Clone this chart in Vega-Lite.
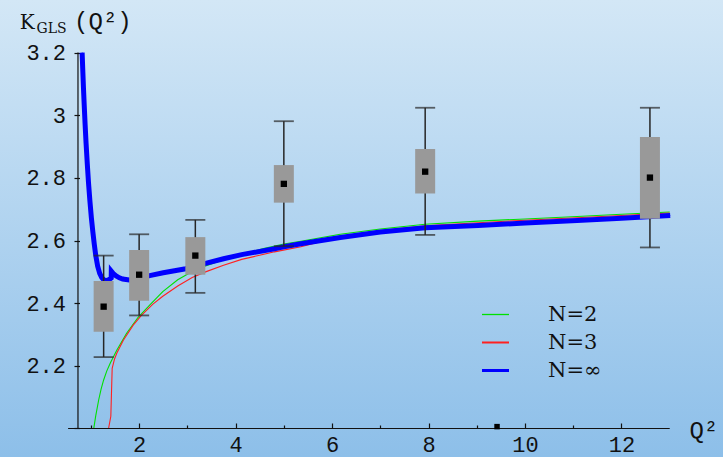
{
  "$schema": "https://vega.github.io/schema/vega-lite/v6.json",
  "width": 723,
  "height": 457,
  "autosize": {"type": "none"},
  "padding": 0,
  "background": "#b2d3ef",
  "view": {"stroke": null, "fill": {"expr": "{gradient: 'linear', x1: 0, y1: 0, x2: 0, y2: 1, stops: [{offset: 0, color: '#d3e7f6'}, {offset: 1, color: '#8dbfe9'}]}"}},
  "config": {
    "axis": {"domain": false, "grid": false, "labelFont": "Liberation Mono", "labelFontSize": 22, "labelColor": "#111111", "tickColor": "#111111", "tickWidth": 1.2, "labelFlush": false, "labelOverlap": false, "labelBound": false}
  },
  "datasets": {
    "curves": [
      {"series": "N=2", "q": 1.059, "k": 2.000},
      {"series": "N=2", "q": 1.100, "k": 2.040},
      {"series": "N=2", "q": 1.161, "k": 2.091},
      {"series": "N=2", "q": 1.210, "k": 2.125},
      {"series": "N=2", "q": 1.264, "k": 2.155},
      {"series": "N=2", "q": 1.330, "k": 2.184},
      {"series": "N=2", "q": 1.400, "k": 2.208},
      {"series": "N=2", "q": 1.536, "k": 2.250},
      {"series": "N=2", "q": 1.740, "k": 2.304},
      {"series": "N=2", "q": 1.979, "k": 2.355},
      {"series": "N=2", "q": 2.218, "k": 2.394},
      {"series": "N=2", "q": 2.490, "k": 2.437},
      {"series": "N=2", "q": 2.800, "k": 2.475},
      {"series": "N=2", "q": 3.100, "k": 2.501},
      {"series": "N=2", "q": 3.376, "k": 2.519},
      {"series": "N=2", "q": 3.785, "k": 2.540},
      {"series": "N=2", "q": 4.126, "k": 2.556},
      {"series": "N=2", "q": 4.600, "k": 2.575},
      {"series": "N=2", "q": 5.000, "k": 2.589},
      {"series": "N=2", "q": 5.353, "k": 2.598},
      {"series": "N=2", "q": 6.170, "k": 2.620},
      {"series": "N=2", "q": 7.000, "k": 2.637},
      {"series": "N=2", "q": 7.930, "k": 2.652},
      {"series": "N=2", "q": 9.030, "k": 2.662},
      {"series": "N=2", "q": 10.00, "k": 2.669},
      {"series": "N=2", "q": 11.08, "k": 2.677},
      {"series": "N=2", "q": 12.00, "k": 2.684},
      {"series": "N=2", "q": 13.00, "k": 2.691},
      {"series": "N=3", "q": 1.366, "k": 2.000},
      {"series": "N=3", "q": 1.413, "k": 2.039},
      {"series": "N=3", "q": 1.441, "k": 2.192},
      {"series": "N=3", "q": 1.490, "k": 2.222},
      {"series": "N=3", "q": 1.536, "k": 2.240},
      {"series": "N=3", "q": 1.672, "k": 2.282},
      {"series": "N=3", "q": 1.877, "k": 2.330},
      {"series": "N=3", "q": 2.047, "k": 2.361},
      {"series": "N=3", "q": 2.286, "k": 2.397},
      {"series": "N=3", "q": 2.490, "k": 2.422},
      {"series": "N=3", "q": 2.800, "k": 2.455},
      {"series": "N=3", "q": 3.100, "k": 2.482},
      {"series": "N=3", "q": 3.376, "k": 2.500},
      {"series": "N=3", "q": 3.750, "k": 2.521},
      {"series": "N=3", "q": 4.126, "k": 2.540},
      {"series": "N=3", "q": 4.807, "k": 2.564},
      {"series": "N=3", "q": 5.353, "k": 2.580},
      {"series": "N=3", "q": 6.170, "k": 2.612},
      {"series": "N=3", "q": 7.000, "k": 2.632},
      {"series": "N=3", "q": 7.930, "k": 2.647},
      {"series": "N=3", "q": 9.030, "k": 2.657},
      {"series": "N=3", "q": 10.00, "k": 2.665},
      {"series": "N=3", "q": 11.08, "k": 2.673},
      {"series": "N=3", "q": 12.00, "k": 2.680},
      {"series": "N=3", "q": 13.00, "k": 2.688},
      {"series": "N=∞", "q": 0.818, "k": 3.200},
      {"series": "N=∞", "q": 0.830, "k": 3.150},
      {"series": "N=∞", "q": 0.845, "k": 3.090},
      {"series": "N=∞", "q": 0.862, "k": 3.030},
      {"series": "N=∞", "q": 0.880, "k": 2.970},
      {"series": "N=∞", "q": 0.900, "k": 2.910},
      {"series": "N=∞", "q": 0.925, "k": 2.845},
      {"series": "N=∞", "q": 0.950, "k": 2.785},
      {"series": "N=∞", "q": 0.980, "k": 2.725},
      {"series": "N=∞", "q": 1.010, "k": 2.672},
      {"series": "N=∞", "q": 1.040, "k": 2.628},
      {"series": "N=∞", "q": 1.070, "k": 2.588},
      {"series": "N=∞", "q": 1.100, "k": 2.553},
      {"series": "N=∞", "q": 1.140, "k": 2.518},
      {"series": "N=∞", "q": 1.182, "k": 2.495},
      {"series": "N=∞", "q": 1.225, "k": 2.482},
      {"series": "N=∞", "q": 1.264, "k": 2.475},
      {"series": "N=∞", "q": 1.310, "k": 2.472},
      {"series": "N=∞", "q": 1.360, "k": 2.474},
      {"series": "N=∞", "q": 1.405, "k": 2.478},
      {"series": "N=∞", "q": 1.421, "k": 2.480},
      {"series": "N=∞", "q": 1.423, "k": 2.502},
      {"series": "N=∞", "q": 1.460, "k": 2.495},
      {"series": "N=∞", "q": 1.523, "k": 2.487},
      {"series": "N=∞", "q": 1.590, "k": 2.481},
      {"series": "N=∞", "q": 1.659, "k": 2.477},
      {"series": "N=∞", "q": 1.795, "k": 2.474},
      {"series": "N=∞", "q": 1.900, "k": 2.476},
      {"series": "N=∞", "q": 2.000, "k": 2.479},
      {"series": "N=∞", "q": 2.081, "k": 2.483},
      {"series": "N=∞", "q": 2.218, "k": 2.488},
      {"series": "N=∞", "q": 2.500, "k": 2.497},
      {"series": "N=∞", "q": 2.967, "k": 2.510},
      {"series": "N=∞", "q": 3.376, "k": 2.527},
      {"series": "N=∞", "q": 3.750, "k": 2.542},
      {"series": "N=∞", "q": 4.126, "k": 2.555},
      {"series": "N=∞", "q": 4.807, "k": 2.574},
      {"series": "N=∞", "q": 5.000, "k": 2.580},
      {"series": "N=∞", "q": 5.353, "k": 2.590},
      {"series": "N=∞", "q": 6.170, "k": 2.610},
      {"series": "N=∞", "q": 7.000, "k": 2.627},
      {"series": "N=∞", "q": 7.930, "k": 2.641},
      {"series": "N=∞", "q": 9.030, "k": 2.648},
      {"series": "N=∞", "q": 10.00, "k": 2.656},
      {"series": "N=∞", "q": 11.08, "k": 2.664},
      {"series": "N=∞", "q": 12.00, "k": 2.671},
      {"series": "N=∞", "q": 13.01, "k": 2.680}
    ],
    "boxes": [
      {"q": 1.264, "mean": 2.389, "lo": 2.309, "hi": 2.471, "wlo": 2.228, "whi": 2.552},
      {"q": 2.000, "mean": 2.491, "lo": 2.408, "hi": 2.570, "wlo": 2.361, "whi": 2.620},
      {"q": 3.165, "mean": 2.552, "lo": 2.491, "hi": 2.611, "wlo": 2.433, "whi": 2.666},
      {"q": 5.000, "mean": 2.781, "lo": 2.721, "hi": 2.841, "wlo": 2.582, "whi": 2.981},
      {"q": 7.930, "mean": 2.820, "lo": 2.750, "hi": 2.892, "wlo": 2.618, "whi": 3.024},
      {"q": 12.59, "mean": 2.801, "lo": 2.670, "hi": 2.931, "wlo": 2.578, "whi": 3.024}
    ],
    "stray": [
      {"q": 9.42, "k": 2.006}
    ],
    "one": [{}]
  },
  "layer": [
    {
      "data": {"name": "curves"},
      "mark": {"type": "line", "interpolate": "linear", "strokeWidth": 1.1},
      "encoding": {
        "x": {"field": "q", "type": "quantitative", "scale": {"domain": [-0.781, 14.001], "nice": false, "zero": false},
          "axis": {"orient": "bottom", "offset": -28.5, "title": null,
            "values": [1, 1.5, 2, 2.5, 3, 3.5, 4, 4.5, 5, 5.5, 6, 6.5, 7, 7.5, 8, 8.5, 9, 9.5, 10, 10.5, 11, 11.5, 12, 12.5],
            "format": "~g",
            "labelExpr": "abs(datum.value/2 - round(datum.value/2)) < 0.001 ? datum.label : ''",
            "tickSize": {"condition": {"test": "abs(datum.value/2 - round(datum.value/2)) < 0.001", "value": -5.5}, "value": -3.5},
            "labelPadding": 11}},
        "y": {"field": "k", "type": "quantitative", "scale": {"domain": [1.909, 3.368], "nice": false, "zero": false},
          "axis": {"orient": "left", "offset": -74, "title": null,
            "values": [2, 2.05, 2.1, 2.15, 2.2, 2.25, 2.3, 2.35, 2.4, 2.45, 2.5, 2.55, 2.6, 2.65, 2.7, 2.75, 2.8, 2.85, 2.9, 2.95, 3, 3.05, 3.1, 3.15, 3.2],
            "format": ".2~f",
            "labelExpr": "datum.value > 2.01 && abs(datum.value*5 - round(datum.value*5)) < 0.001 ? datum.label : ''",
            "tickSize": {"condition": {"test": "abs(datum.value*5 - round(datum.value*5)) < 0.001", "value": -5.5}, "value": -3.5},
            "labelPadding": 14}},
        "color": {"field": "series", "type": "nominal",
          "scale": {"domain": ["N=2", "N=3", "N=∞"], "range": ["#00e000", "#ff2020", "#0000ff"]},
          "legend": {"orient": "none", "legendX": 485, "legendY": 304, "title": null, "symbolType": "stroke", "symbolSize": 729,
            "labelFont": "DejaVu Serif", "labelFontSize": 21, "labelColor": "#111111", "labelOffset": 42, "rowPadding": 6, "padding": 0,
            "symbolStrokeWidth": 1.5,
            "encode": {"symbols": {"update": {"strokeWidth": {"signal": "datum.value === 'N=∞' ? 3 : (datum.value === 'N=3' ? 2 : 1.3)"}}}}}},
        "order": {"field": "q", "type": "quantitative"}
      }
    },
    {
      "data": {"name": "curves"},
      "transform": [{"filter": "datum.series === 'N=∞'"}],
      "mark": {"type": "line", "interpolate": "linear", "strokeWidth": 5},
      "encoding": {
        "x": {"field": "q", "type": "quantitative"},
        "y": {"field": "k", "type": "quantitative"},
        "color": {"field": "series", "type": "nominal"},
        "order": {"field": "q", "type": "quantitative"}
      }
    },
    {
      "data": {"name": "one"},
      "mark": {"type": "rule", "color": "#111111", "strokeWidth": 1.2},
      "encoding": {
        "x": {"datum": 0.527, "type": "quantitative"},
        "x2": {"datum": 13.0},
        "y": {"datum": 2.0, "type": "quantitative"}
      }
    },
    {
      "data": {"name": "one"},
      "mark": {"type": "rule", "color": "#111111", "strokeWidth": 1.2},
      "encoding": {
        "x": {"datum": 0.732, "type": "quantitative"},
        "y": {"datum": 2.0, "type": "quantitative"},
        "y2": {"datum": 3.2}
      }
    },
    {
      "data": {"name": "boxes"},
      "mark": {"type": "rule", "color": "#262626", "strokeWidth": 1.5},
      "encoding": {
        "x": {"field": "q", "type": "quantitative"},
        "y": {"field": "wlo", "type": "quantitative"},
        "y2": {"field": "whi"}
      }
    },
    {
      "data": {"name": "boxes"},
      "mark": {"type": "tick", "orient": "horizontal", "color": "#262626", "size": 20, "thickness": 1.8},
      "encoding": {
        "x": {"field": "q", "type": "quantitative"},
        "y": {"field": "wlo", "type": "quantitative"}
      }
    },
    {
      "data": {"name": "boxes"},
      "mark": {"type": "tick", "orient": "horizontal", "color": "#262626", "size": 20, "thickness": 1.8},
      "encoding": {
        "x": {"field": "q", "type": "quantitative"},
        "y": {"field": "whi", "type": "quantitative"}
      }
    },
    {
      "data": {"name": "boxes"},
      "mark": {"type": "bar", "color": "#999999", "width": 20},
      "encoding": {
        "x": {"field": "q", "type": "quantitative"},
        "y": {"field": "lo", "type": "quantitative"},
        "y2": {"field": "hi"}
      }
    },
    {
      "data": {"name": "boxes"},
      "mark": {"type": "point", "shape": "square", "filled": true, "color": "#000000", "size": 40, "opacity": 1},
      "encoding": {
        "x": {"field": "q", "type": "quantitative"},
        "y": {"field": "mean", "type": "quantitative"}
      }
    },
    {
      "data": {"name": "stray"},
      "mark": {"type": "point", "shape": "square", "filled": true, "color": "#000000", "size": 30, "opacity": 1},
      "encoding": {
        "x": {"field": "q", "type": "quantitative"},
        "y": {"field": "k", "type": "quantitative"}
      }
    },
    {
      "data": {"name": "one"},
      "mark": {"type": "text", "text": "K", "font": "DejaVu Serif", "fontSize": 20, "align": "left", "baseline": "alphabetic", "color": "#111111"},
      "encoding": {"x": {"datum": -0.474, "type": "quantitative"}, "y": {"datum": 3.275, "type": "quantitative"}}
    },
    {
      "data": {"name": "one"},
      "mark": {"type": "text", "text": "GLS", "font": "DejaVu Serif", "fontSize": 14, "align": "left", "baseline": "alphabetic", "color": "#111111"},
      "encoding": {"x": {"datum": -0.127, "type": "quantitative"}, "y": {"datum": 3.263, "type": "quantitative"}}
    },
    {
      "data": {"name": "one"},
      "mark": {"type": "text", "text": "(Q²)", "font": "Liberation Mono", "fontSize": 24, "align": "left", "baseline": "alphabetic", "color": "#111111"},
      "encoding": {"x": {"datum": 0.651, "type": "quantitative"}, "y": {"datum": 3.274, "type": "quantitative"}}
    },
    {
      "data": {"name": "one"},
      "mark": {"type": "text", "text": "Q²", "font": "Liberation Mono", "fontSize": 24, "align": "left", "baseline": "alphabetic", "color": "#111111"},
      "encoding": {"x": {"datum": 13.408, "type": "quantitative"}, "y": {"datum": 1.9695, "type": "quantitative"}}
    }
  ]
}
